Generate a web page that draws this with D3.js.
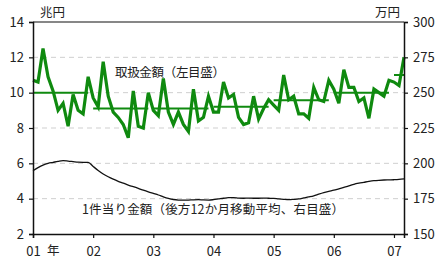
<!DOCTYPE html>
<html>
<head>
<meta charset="utf-8">
<script src="https://cdn.jsdelivr.net/npm/d3@7"></script>
<style>
  body { margin: 0; background: #fff; }
  text { font-family: "Noto Sans CJK JP", "DejaVu Sans", sans-serif; fill: #222; }
</style>
</head>
<body>
<div id="chart"></div>
<script>
// monthly data, Jan 2001 - Mar 2007
const amount = [
  10.7, 10.6, 12.5, 10.9, 10.1, 9.0, 9.4, 8.1, 9.9, 9.0, 8.8, 10.9,
  9.7, 9.2, 11.75, 9.8, 8.9, 8.6, 8.2, 7.45, 10.1, 8.1, 8.0, 10.0,
  9.0, 8.7, 10.8, 8.9, 8.2, 8.9, 8.2, 7.8, 10.2, 8.4, 8.6, 9.8,
  8.9, 8.9, 10.6, 9.7, 9.9, 8.6, 8.2, 8.3, 9.8, 8.5, 9.1, 9.6,
  9.3, 9.0, 11.0, 9.6, 9.8, 8.8, 8.8, 8.55, 10.3, 9.6, 9.5, 10.7,
  10.2, 9.4, 11.3, 10.3, 10.3, 9.5, 9.7, 8.55, 10.2, 10.0, 9.8, 10.7,
  10.6, 10.4, 12.0
];
const perCase = [
  194.8, 197.0, 198.8, 200.0, 200.7, 201.4, 201.9, 201.6, 201.2, 200.8, 200.7, 200.7,
  197.8, 195.0, 192.5, 190.5, 188.8, 187.3, 186.0, 184.6, 183.5, 182.3, 181.0, 179.8,
  178.7, 177.6, 176.3, 175.2, 174.4, 174.0, 173.9, 174.0, 174.2, 174.3, 174.1, 174.0,
  174.3, 174.8, 175.3, 175.7, 175.7, 175.4, 175.3, 175.4, 175.3, 175.3, 175.4, 175.3,
  175.2, 174.8, 174.5, 174.3, 174.5, 174.8, 175.5, 176.2, 177.0, 178.2, 179.3, 180.2,
  181.0, 182.0, 183.0, 184.0, 185.2, 186.0, 186.6, 187.2, 187.7, 188.0, 188.2, 188.3,
  188.4, 188.6, 189.0
];
// yearly averages of amount
const yearAvg = [10.0, 9.1, 9.1, 9.2, 9.57, 10.0, 11.0];
const yearLabels = ["01", "02", "03", "04", "05", "06", "07"];
const leftTicks = [2, 4, 6, 8, 10, 12, 14];
const rightTicks = [150, 175, 200, 225, 250, 275, 300];

const W = 436, H = 269;
const margin = {top: 22, right: 32, bottom: 35, left: 33};
const green = "#0f8a0f";

const svg = d3.select("#chart").append("svg")
    .attr("width", W).attr("height", H);

const x = d3.scaleLinear().domain([0, amount.length - 1]).range([margin.left, W - margin.right]);
const yL = d3.scaleLinear().domain([2, 14]).range([H - margin.bottom, margin.top]);
const yR = d3.scaleLinear().domain([150, 300]).range([H - margin.bottom, margin.top]);

// grid
svg.append("g").selectAll("line")
    .data(leftTicks.slice(1, -1))
    .enter().append("line")
    .attr("x1", margin.left).attr("x2", W - margin.right)
    .attr("y1", d => yL(d)).attr("y2", d => yL(d))
    .attr("stroke", "#cfcfcf").attr("stroke-dasharray", "5,4");

// top border
svg.append("line")
    .attr("x1", margin.left).attr("x2", W - margin.right)
    .attr("y1", yL(14)).attr("y2", yL(14))
    .attr("stroke", "#111").attr("stroke-width", 1.2);

// black line (right axis)
svg.append("path")
    .datum(perCase)
    .attr("fill", "none").attr("stroke", "#111").attr("stroke-width", 1.3)
    .attr("d", d3.line().x((d, i) => x(i)).y(d => yR(d)).curve(d3.curveMonotoneX));

// yearly average segments
svg.append("g").selectAll("line")
    .data(yearAvg)
    .enter().append("line")
    .attr("x1", (d, i) => x(i * 12))
    .attr("x2", (d, i) => x(Math.min(i * 12 + 11, amount.length - 1)))
    .attr("y1", d => yL(d)).attr("y2", d => yL(d))
    .attr("stroke", green).attr("stroke-width", 2);

// monthly amount
svg.append("path")
    .datum(amount)
    .attr("fill", "none").attr("stroke", green).attr("stroke-width", 3.2)
    .attr("stroke-linejoin", "miter")
    .attr("d", d3.line().x((d, i) => x(i)).y(d => yL(d)));

// axes
const axL = svg.append("g")
    .attr("transform", `translate(${margin.left},0)`)
    .call(d3.axisLeft(yL).tickValues(leftTicks).tickSize(4).tickPadding(5));
const axR = svg.append("g")
    .attr("transform", `translate(${W - margin.right},0)`)
    .call(d3.axisRight(yR).tickValues(rightTicks).tickSize(4).tickPadding(5));
const axB = svg.append("g")
    .attr("transform", `translate(0,${H - margin.bottom})`)
    .call(d3.axisBottom(x).tickValues(yearLabels.map((d, i) => i * 12))
        .tickFormat((d, i) => yearLabels[i]).tickSize(4).tickPadding(6));

[axL, axR, axB].forEach(a => {
    a.select(".domain").attr("stroke", "#111").attr("stroke-width", 1.5);
    a.selectAll(".tick line").attr("stroke", "#111").attr("stroke-width", 1.2);
    a.selectAll(".tick text").attr("font-size", 13).attr("fill", "#222")
        .attr("font-family", "'Liberation Sans', Arial, sans-serif");
});
axB.selectAll(".tick text").attr("dy", "0.95em");

svg.append("text").attr("x", x(0) + 14).attr("y", H - margin.bottom + 21)
    .attr("font-size", 12.5).text("年");

// unit labels
svg.append("text").attr("x", 40).attr("y", 17).attr("font-size", 12.5).text("兆円");
svg.append("text").attr("x", 400).attr("y", 17).attr("font-size", 12.5)
    .attr("text-anchor", "end").text("万円");

// series labels
svg.append("text").attr("x", 115).attr("y", 77).attr("font-size", 12.5)
    .attr("textLength", 110).attr("lengthAdjust", "spacing")
    .text("取扱金額（左目盛）");
svg.append("text").attr("x", 82).attr("y", 214).attr("font-size", 12.5)
    .attr("textLength", 262).attr("lengthAdjust", "spacing")
    .text("1件当り金額（後方12か月移動平均、右目盛）");
</script>
</body>
</html>
